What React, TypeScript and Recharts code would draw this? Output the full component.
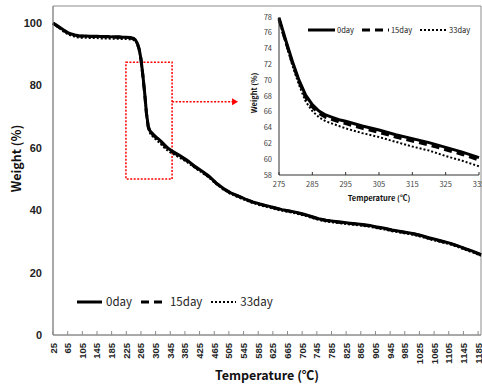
import React from 'react';
import {
  LineChart,
  Line,
  XAxis,
  YAxis,
  Label,
  Legend,
  ReferenceArea,
  ReferenceLine,
  ReferenceDot,
} from 'recharts';

// main TGA curve, temperature in ℃
const temps = [
  25, 35, 45, 55, 65, 75, 85, 95, 105, 115, 125, 135, 145, 155, 165, 175, 185, 195, 205, 215, 225, 235, 245,
  250, 255, 260, 265, 270, 275, 280, 285, 290, 300, 310, 320, 330, 340, 350, 370, 390, 410, 430, 450, 470,
  490, 510, 530, 550, 570, 590, 610, 630, 650, 670, 690, 710, 730, 750, 770, 790, 810, 830, 850, 870, 890,
  910, 930, 950, 970, 990, 1010, 1030, 1050, 1070, 1090, 1110, 1130, 1150, 1170, 1193,
];
const day0 = [
  100, 99.3, 98.5, 97.7, 97.0, 96.5, 96.2, 96.0, 95.9, 95.9, 95.8, 95.8, 95.8, 95.7, 95.7, 95.7, 95.6, 95.6, 95.6, 95.5, 95.5, 95.4, 95.1,
  94.6, 93.6, 91.8, 88.6, 83.6, 77.9, 71.2, 66.9, 65.4, 64.2, 63.1, 62.1, 60.9, 59.8, 59.0, 57.6, 56.1, 54.3, 52.7, 51.0, 48.8,
  47.0, 45.6, 44.6, 43.6, 42.7, 42.0, 41.4, 40.8, 40.2, 39.8, 39.3, 38.7, 38.0, 37.3, 36.8, 36.5, 36.2, 35.9, 35.7, 35.4, 35.1,
  34.6, 34.2, 33.7, 33.3, 32.9, 32.5, 31.9, 31.2, 30.6, 30.0, 29.4, 28.6, 27.7, 26.9, 25.8,
];
const day15 = [
  100, 99.2, 98.4, 97.6, 96.9, 96.4, 96.1, 95.9, 95.8, 95.8, 95.7, 95.7, 95.7, 95.6, 95.6, 95.6, 95.5, 95.5, 95.5, 95.4, 95.4, 95.3, 95.0,
  94.5, 93.5, 91.6, 88.4, 83.4, 77.7, 71.0, 66.6, 65.1, 63.9, 62.8, 61.8, 60.6, 59.6, 58.8, 57.4, 55.9, 54.1, 52.5, 50.8, 48.7,
  46.9, 45.5, 44.5, 43.5, 42.6, 41.9, 41.3, 40.7, 40.1, 39.7, 39.2, 38.6, 37.9, 37.2, 36.7, 36.4, 36.1, 35.8, 35.6, 35.3, 35.0,
  34.5, 34.1, 33.6, 33.2, 32.8, 32.4, 31.8, 31.1, 30.5, 29.9, 29.3, 28.5, 27.6, 26.8, 25.7,
];
const day33 = [
  100, 99.0, 98.1, 97.2, 96.5, 96.0, 95.6, 95.4, 95.3, 95.3, 95.2, 95.2, 95.2, 95.1, 95.1, 95.1, 95.0, 95.0, 95.0, 94.9, 94.9, 94.8, 94.6,
  94.2, 93.2, 91.3, 88.0, 83.0, 77.6, 70.5, 66.1, 64.6, 63.3, 62.2, 61.1, 59.9, 58.9, 58.2, 56.9, 55.5, 53.8, 52.2, 50.5, 48.4,
  46.6, 45.2, 44.2, 43.2, 42.3, 41.6, 41.0, 40.4, 39.8, 39.4, 38.9, 38.3, 37.6, 36.9, 36.4, 36.1, 35.8, 35.5, 35.3, 35.0, 34.7,
  34.2, 33.8, 33.3, 32.9, 32.5, 32.1, 31.5, 30.8, 30.2, 29.6, 29.0, 28.2, 27.3, 26.5, 25.4,
];
const xTicks = [
  25, 65, 105, 145, 185, 225, 265, 305, 345, 385, 425, 465, 505, 545, 585, 625, 665, 705, 745, 785, 825, 865,
  905, 945, 985, 1025, 1065, 1105, 1145, 1185,
];
const yTicks = [0, 20, 40, 60, 80, 100];

// zoomed window 275-335 ℃
const zoomTemps = [275, 277, 279, 281, 283, 285, 287, 289, 291, 293, 295, 300, 305, 310, 315, 320, 325, 330, 335];
const zoomDay0 = [77.9, 75.1, 72.4, 70.0, 68.1, 66.9, 66.1, 65.6, 65.3, 65.0, 64.8, 64.2, 63.7, 63.1, 62.6, 62.1, 61.5, 60.9, 60.2];
const zoomDay15 = [77.7, 74.9, 72.2, 69.8, 67.8, 66.6, 65.8, 65.3, 65.0, 64.7, 64.5, 63.9, 63.4, 62.8, 62.3, 61.8, 61.2, 60.6, 59.9];
const zoomDay33 = [77.6, 74.7, 71.9, 69.4, 67.3, 66.1, 65.3, 64.8, 64.5, 64.2, 63.9, 63.3, 62.8, 62.2, 61.6, 61.1, 60.4, 59.8, 59.1];
const zoomXTicks = [275, 285, 295, 305, 315, 325, 335];
const zoomYTicks = [58, 60, 62, 64, 66, 68, 70, 72, 74, 76, 78];

const seriesNames = ['0day', '15day', '33day'];

const mainData = temps.map((t, i) => ({ t, d0: day0[i], d15: day15[i], d33: day33[i] }));
const zoomData = zoomTemps.map((t, i) => ({ t, d0: zoomDay0[i], d15: zoomDay15[i], d33: zoomDay33[i] }));

const FONT = '"Noto Sans CJK KR", "Noto Sans", sans-serif';
const NUM_FONT = '"Liberation Sans", Arial, sans-serif';
const AXIS = '#8c8c8c';

const styles = [
  { dash: undefined as string | undefined, width: 3 },
  { dash: '8 5', width: 3 },
  { dash: '2 2', width: 2 },
];

const MainXTick = ({ x, y, payload }: any) => (
  <g>
    <line x1={x} y1={y - 8} x2={x} y2={y - 12} stroke={AXIS} />
    <text
      x={x}
      y={y}
      transform={`rotate(-90, ${x}, ${y})`}
      textAnchor="end"
      dominantBaseline="central"
      fontFamily={NUM_FONT}
      fontSize={9.5}
      fontWeight={700}
      fill="#222"
    >
      {payload.value}
    </text>
  </g>
);

const ZoomXTick = ({ x, y, payload }: any) => (
  <g>
    <line x1={x} y1={y - 5} x2={x} y2={y - 8} stroke="#333" />
    <text x={x} y={y} textAnchor="middle" dominantBaseline="hanging" fontFamily={FONT} fontSize={7.5} fill="#444">
      {payload.value}
    </text>
  </g>
);

const YTitle = ({ viewBox, value, x0, dy, size }: any) => {
  const cy = viewBox.y + viewBox.height / 2 + (dy || 0);
  return (
    <text
      x={x0}
      y={cy}
      transform={`rotate(-90, ${x0}, ${cy})`}
      textAnchor="middle"
      dominantBaseline="central"
      fontFamily={FONT}
      fontSize={size}
      fontWeight={700}
      fill="#111"
    >
      {value}
    </text>
  );
};

const LegendRow = ({ size, lineW, gap, textGap }: any) => (
  <div style={{ display: 'flex', alignItems: 'center', fontFamily: FONT, fontSize: size, color: '#222', lineHeight: 1 }}>
    {seriesNames.map((name, i) => (
      <div key={name} style={{ display: 'flex', alignItems: 'center', marginRight: gap }}>
        <svg width={lineW} height={6}>
          <line
            x1={0}
            y1={3}
            x2={lineW}
            y2={3}
            stroke="#000"
            strokeWidth={styles[i].width}
            strokeDasharray={styles[i].dash}
          />
        </svg>
        <span style={{ marginLeft: textGap }}>{name}</span>
      </div>
    ))}
  </div>
);

const Arrow = ({ cx, cy }: any) => (
  <path d={`M${cx - 6},${cy - 3.5} L${cx},${cy} L${cx - 6},${cy + 3.5} Z`} fill="#ff0000" />
);

export default function App() {
  return (
    <div style={{ position: 'absolute', left: 0, top: 0, width: 482, height: 385, background: '#fff' }}>
      <LineChart width={482} height={385} data={mainData} margin={{ top: 6, right: 1, bottom: 0, left: 0 }}>
        <XAxis
          dataKey="t"
          type="number"
          domain={[25, 1193]}
          ticks={xTicks}
          interval={0}
          height={50}
          tickSize={0}
          tickMargin={8}
          tickLine={false}
          stroke={AXIS}
          tick={<MainXTick />}
        >
          <Label
            value="Temperature (℃)"
            position="insideBottom"
            offset={5}
            style={{ fontFamily: FONT, fontSize: 12.5, fontWeight: 700, fill: '#111' }}
          />
        </XAxis>
        <YAxis
          type="number"
          domain={[0, 105.5]}
          ticks={yTicks}
          width={53}
          tickSize={0}
          tickMargin={11}
          tickLine={false}
          stroke={AXIS}
          tick={{ fontFamily: NUM_FONT, fontSize: 11, fontWeight: 700, fill: '#222' }}
        >
          <Label content={<YTitle value="Weight (%)" x0={15} dy={-12} size={12.5} />} />
        </YAxis>
        <ReferenceArea x1={25} x2={1193} y1={0} y2={105.5} fill="none" stroke={AXIS} ifOverflow="visible" />
        <ReferenceArea
          x1={224}
          x2={350}
          y1={50}
          y2={87.5}
          fill="none"
          stroke="#ff0000"
          strokeWidth={1.5}
          strokeDasharray="2 1.5"
        />
        <ReferenceLine
          segment={[
            { x: 350, y: 74.8 },
            { x: 522, y: 74.8 },
          ]}
          stroke="#ff0000"
          strokeWidth={1.5}
          strokeDasharray="2 1.5"
        />
        <ReferenceDot x={530} y={74.8} shape={<Arrow />} />
        <Legend
          verticalAlign="middle"
          align="center"
          wrapperStyle={{ left: 77, top: 296, width: 'auto' }}
          content={() => <LegendRow size={11.5} lineW={25} gap={9} textGap={4} />}
        />
        <Line dataKey="d0" stroke="#000" strokeWidth={3} dot={false} isAnimationActive={false} />
        <Line dataKey="d15" stroke="#000" strokeWidth={3} strokeDasharray="8 5" dot={false} isAnimationActive={false} />
        <Line dataKey="d33" stroke="#000" strokeWidth={2} strokeDasharray="2 2" dot={false} isAnimationActive={false} />
      </LineChart>

      <div style={{ position: 'absolute', left: 246, top: 8, width: 236, height: 197 }}>
        <LineChart width={236} height={197} data={zoomData} margin={{ top: 9, right: 3, bottom: 0, left: 0 }}>
          <XAxis
            dataKey="t"
            type="number"
            domain={[275, 335]}
            ticks={zoomXTicks}
            interval={0}
            height={30}
            tickSize={0}
            tickMargin={5}
            tickLine={false}
            stroke="#333"
            tick={<ZoomXTick />}
          >
            <Label
              value="Temperature (℃)"
              position="insideBottom"
              offset={4}
              style={{ fontFamily: FONT, fontSize: 7.5, fontWeight: 600, fill: '#111' }}
            />
          </XAxis>
          <YAxis
            type="number"
            domain={[58, 78]}
            ticks={zoomYTicks}
            interval={0}
            width={33}
            tickSize={0}
            tickMargin={7}
            tickLine={false}
            stroke="#333"
            tick={{ fontFamily: FONT, fontSize: 7.5, fill: '#444' }}
          >
            <Label content={<YTitle value="Weight (%)" x0={7} dy={-3} size={7.5} />} />
          </YAxis>
          <Legend
            verticalAlign="middle"
            align="center"
            wrapperStyle={{ left: 62, top: 18, width: 'auto' }}
            content={() => <LegendRow size={7.5} lineW={27} gap={8} textGap={2} />}
          />
          <Line dataKey="d0" stroke="#000" strokeWidth={3} dot={false} isAnimationActive={false} />
          <Line dataKey="d15" stroke="#000" strokeWidth={3} strokeDasharray="8 5" dot={false} isAnimationActive={false} />
          <Line dataKey="d33" stroke="#000" strokeWidth={2} strokeDasharray="2 2" dot={false} isAnimationActive={false} />
        </LineChart>
      </div>
    </div>
  );
}
